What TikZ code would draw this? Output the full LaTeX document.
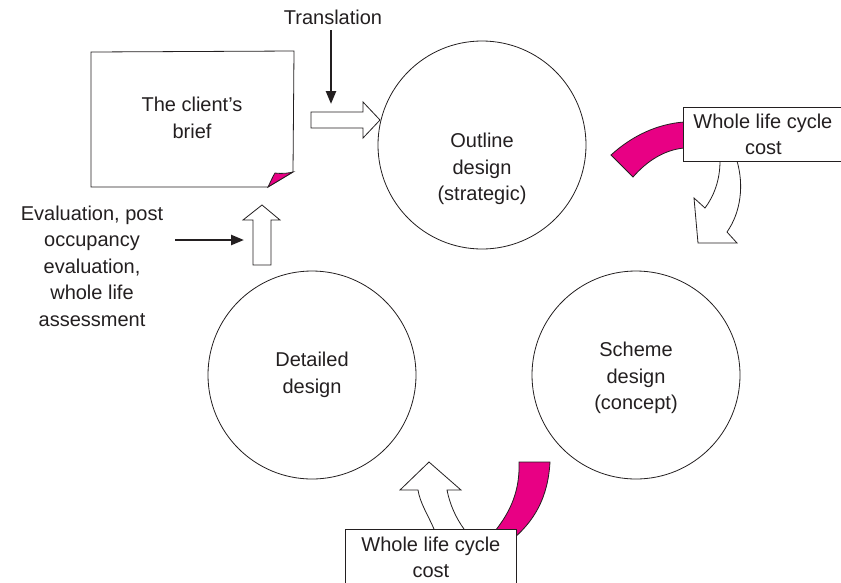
\documentclass[tikz,border=0pt]{standalone}
\usepackage[RGB]{xcolor}
\usepackage{fontspec}
\setmainfont{Liberation Sans}
\usetikzlibrary{arrows.meta}
\definecolor{cost}{RGB}{232,0,132}
\definecolor{ink}{RGB}{35,31,32}
\newcommand{\drawoutline}{\draw[ink, line width=0.8pt]}
\tikzset{
  stage/.style={draw=ink, line width=0.8pt, circle, minimum size=208pt, inner sep=0pt},
  txt/.style={align=center, inner sep=0pt, text=ink, font=\fontsize{20}{26.5}\selectfont},
  costbox/.style={txt, draw=ink, line width=0.8pt, fill=white, minimum width=171pt, minimum height=56pt},
  feed/.style={ink, line width=2.4pt, -{Triangle[length=13pt,width=10pt]}},
  band/.style={fill=cost, draw=ink, line width=0.8pt},
  hollow/.style={fill=white, draw=ink, line width=0.8pt, line join=miter}
}

\begin{document}
\begin{tikzpicture}[x=1pt,y=-1pt]
\clip (0,0) rectangle (841,582);
% the three design stages
\node[stage] (outline) at (482,145) {};
\node[txt] (outlinetxt) at (482,169) {Outline\\design\\(strategic)};
\node[stage] (scheme) at (636,375) {};
\node[txt] (schemetxt) at (636,378) {Scheme\\design\\(concept)};
\node[stage] (detailed) at (312,375) {};
\node[txt] (detailedtxt) at (312,375) {Detailed\\design};
% the brief, a sheet with a turned corner
\drawoutline[fill=white] (91,52)--(294,51)--(293,172)--(268,187)--(91,187)--cycle;
\drawoutline[fill=cost] (268,187) .. controls (271,181) and (273,176) .. (275,173)
  .. controls (283,174) and (289,173) .. (293,172)--cycle;
\node[txt] (brief) at (192,118) {The client's\\brief};
% translation into the outline design
\node[txt] (translation) at (333,17) {Translation};
\coordinate (transend) at (331,104);
\draw[feed] (331,30)--(transend);
\draw[hollow] (311,112)--++(52,0)--++(0,-10)--(380,120)--(363,138)--++(0,-10)--(311,128)--cycle;
% feedback from evaluation
\node[txt] (evaluation) at (92,266) {Evaluation, post\\occupancy\\evaluation,\\whole life\\assessment};
\coordinate (evalstart) at (175,240);
\coordinate (evalend) at (244,240);
\draw[feed] (evalstart)--(evalend);
\draw[hollow] (253,265)--(253,220)--(243,220)--(262,205)--(280,220)--(271,220)--(271,265)--cycle;
% whole life cycle cost, top right
\draw[band] (611,155) .. controls (633,135) and (658,124) .. (684,122)--(684,148)
  .. controls (664,150) and (647,161) .. (633,177)--cycle;
\draw[hollow] (720,161) .. controls (720,180) and (714,196) .. (705,208)--(694,198)--(698,243)--(737,243)--(727,232)
  .. controls (741,212) and (744,185) .. (737,161);
\node[costbox, minimum width=160pt, minimum height=54pt, anchor=north west] (costtop) at (683,107) {\hspace*{-1pt}Whole life cycle\\cost};
% whole life cycle cost, bottom
\draw[band] (519,462)--(550,462) .. controls (548,497) and (535,522) .. (508,543)--(495,531)
  .. controls (511,511) and (520,490) .. (519,462)--cycle;
\draw[hollow] (434,529) .. controls (428,515) and (420,503) .. (418,490)--(400,490)--(429,462)--(461,490)--(447,490)
  .. controls (450,505) and (456,518) .. (464,529);
\node[costbox, anchor=north west] (costbottom) at (345,529) {Whole life cycle\\cost};
\end{tikzpicture}
\end{document}
